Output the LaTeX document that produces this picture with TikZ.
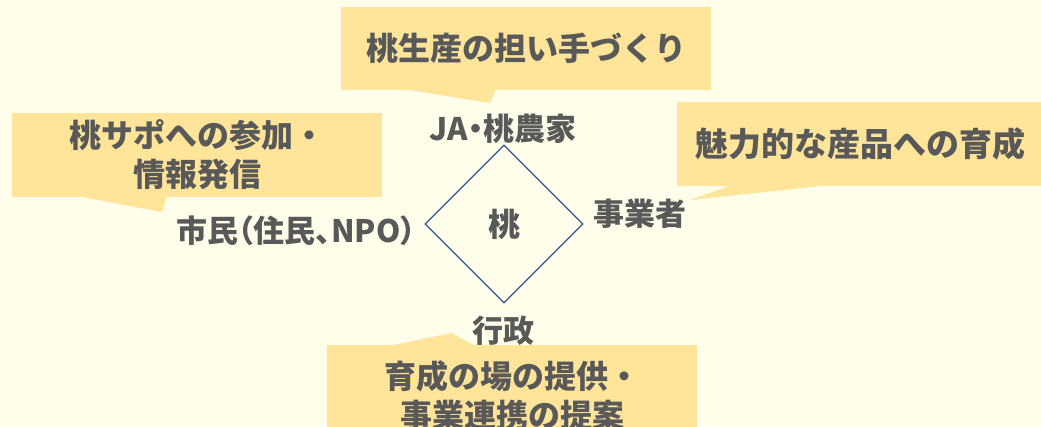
\documentclass[tikz,border=0pt]{standalone}
\usepackage{fontspec}
\setmainfont{Noto Sans CJK JP}
\usetikzlibrary{shapes.geometric}
\definecolor{bgcol}{RGB}{255,254,234}
\definecolor{callcol}{RGB}{255,229,153}
\definecolor{txtcol}{RGB}{89,89,89}
\definecolor{diacol}{RGB}{47,85,151}
\tikzset{
  callbox/.style={fill=callcol, draw=none, inner sep=0pt, text=txtcol,
    font=\bfseries\fontsize{32}{39}\selectfont, align=center},
  calltail/.style={fill=callcol, draw=none},
  actor/.style={text=txtcol, inner sep=0pt, font=\bfseries\fontsize{31}{38}\selectfont\addfontfeatures{RawFeature=+palt}},
  hub/.style={shape=diamond, draw=diacol, line width=1.3pt, minimum size=158pt,
    inner sep=0pt, text=txtcol, font=\bfseries\fontsize{32}{38}\selectfont},
}
\begin{document}
\begin{tikzpicture}[x=1pt, y=-1pt]
\fill[bgcol] (0,0) rectangle (1041,426);
\useasboundingbox (0,0) rectangle (1041,426);
% top callout
\node[callbox, minimum width=370pt, minimum height=83pt] (c1) at (526,48.5) {桃生産の担い手づくり};
\coordinate (t1) at (490,103);
\fill[calltail] (403,89) -- (t1) -- (496,89) -- cycle;
% left callout
\node[callbox, minimum width=370pt, minimum height=84pt] (c2) at (197,155) {\raisebox{-4pt}{\parbox{300pt}{\centering 桃サポへの参加・\\情報発信}}};
\coordinate (t2) at (162,212);
\fill[calltail] (77,196) -- (t2) -- (167,196) -- cycle;
% right callout
\node[callbox, minimum width=370pt, minimum height=84pt, anchor=west] (c3) at (677,144) {\hspace*{-4pt}\fontsize{33}{39}\selectfont 魅力的な産品への育成};
\coordinate (t3) at (690,200);
\fill[calltail] (732,185) -- (t3) -- (830,185) -- cycle;
% bottom callout
\node[callbox, minimum width=370pt, minimum height=100pt, anchor=north] (c4) at (512,345) {\raisebox{-1pt}{\parbox{300pt}{\centering 育成の場の提供・\\事業連携の提案}}};
\coordinate (t4) at (452,333);
\fill[calltail] (388,346) -- (t4) -- (475,346) -- cycle;
% hub and actors
\node[hub] (peach) at (504,224) {桃};
\node[actor] (ja) at (503,129) {JA・桃農家};
\node[actor] (citizen) at (296,231) {市民（住民、NPO）};
\node[actor] (biz) at (640,214) {事業者};
\node[actor] (gov) at (503,331) {行政};
\end{tikzpicture}
\end{document}
